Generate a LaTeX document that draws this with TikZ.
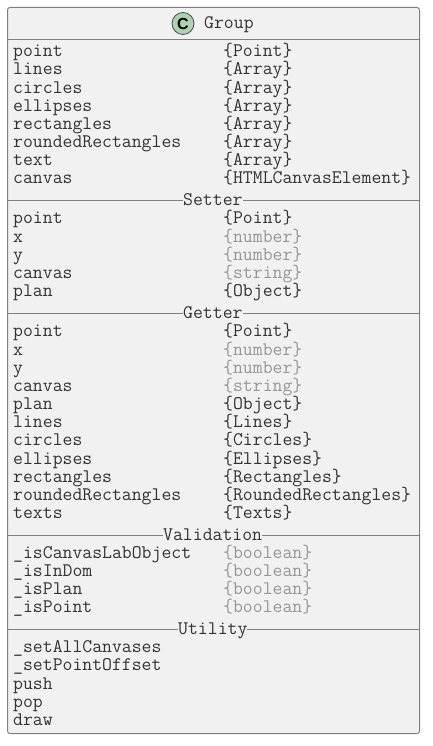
\documentclass[tikz,border=0pt]{standalone}
\usepackage{fontspec}
\setsansfont{Liberation Sans}
\definecolor{boxfill}{HTML}{F1F1F1}
\definecolor{boxline}{HTML}{7F7F7F}
\definecolor{spotfill}{HTML}{ADD1B2}
\definecolor{typegray}{HTML}{969696}
\tikzset{
  member/.style={anchor=base west,inner sep=0pt,yshift=-0.7pt,font=\fontsize{19.2}{20}\ttfamily,text=black!80},
  typename/.style={member},
  typemuted/.style={member,text=typegray},
  sectionlabel/.style={member,fill=boxfill},
}
\begin{document}
\begin{tikzpicture}[x=1pt,y=-1pt]
\useasboundingbox (0,0) rectangle (432,746);
\node[coordinate] (tl) at (7.5,7.5) {};
\node[coordinate] (br) at (419.5,733.5) {};
\draw[boxline,fill=boxfill,rounded corners=2.5pt,line width=1pt] (tl) rectangle (br);

% header
\node[coordinate] (h1) at (7.5,39.5) {};
\node[coordinate] (h2) at (419.5,39.5) {};
\draw[boxline,line width=1pt] (h1) -- (h2);
\node[circle,draw=black!70,fill=spotfill,line width=0.8pt,minimum size=22pt,inner sep=0pt,
  font=\fontsize{16}{16}\sffamily\bfseries] (spot) at (183,23.5) {C};
\node[member] (title) at (204,28) {Group};

% section rules
\foreach \name/\ypos in {setter/200.5,getter/313.5,validation/535.5,utility/629.5}{
  \node[coordinate] (\name l) at (7.5,\ypos) {};
  \node[coordinate] (\name r) at (419.5,\ypos) {};
  \draw[boxline,line width=1pt] (\name l) -- (\name r);
}
\node[sectionlabel] (setter) at (183,205) {Setter};
\node[sectionlabel] (getter) at (183,318) {Getter};
\node[sectionlabel] (validation) at (163,540) {Validation};
\node[sectionlabel] (utility) at (178,634) {Utility};

% fields
\foreach \i/\name/\ypos in {1/point/56,2/lines/74,3/circles/93,4/ellipses/111,5/rectangles/129,
  6/roundedRectangles/147,7/text/165,8/canvas/183}{
  \node[member] (field\i) at (13,\ypos) {\name};
}
\foreach \i/\kind/\ypos in {1/Point/56,2/Array/74,3/Array/93,4/Array/111,5/Array/129,
  6/Array/147,7/Array/165,8/HTMLCanvasElement/183}{
  \node[typename] (fieldtype\i) at (223,\ypos) {\{\kind\}};
}

% setter
\foreach \i/\name/\ypos in {1/point/223,2/x/242,3/y/260,4/canvas/278,5/plan/296}{
  \node[member] (set\i) at (13,\ypos) {\name};
}
\node[typename] (settype1) at (223,223) {\{Point\}};
\node[typemuted] (settype2) at (223,242) {\{number\}};
\node[typemuted] (settype3) at (223,260) {\{number\}};
\node[typemuted] (settype4) at (223,278) {\{string\}};
\node[typename] (settype5) at (223,296) {\{Object\}};

% getter
\foreach \i/\name/\ypos in {1/point/336,2/x/355,3/y/373,4/canvas/391,5/plan/409,6/lines/427,
  7/circles/445,8/ellipses/464,9/rectangles/482,10/roundedRectangles/500,11/texts/518}{
  \node[member] (get\i) at (13,\ypos) {\name};
}
\node[typename] (gettype1) at (223,336) {\{Point\}};
\node[typemuted] (gettype2) at (223,355) {\{number\}};
\node[typemuted] (gettype3) at (223,373) {\{number\}};
\node[typemuted] (gettype4) at (223,391) {\{string\}};
\foreach \i/\kind/\ypos in {5/Object/409,6/Lines/427,7/Circles/445,8/Ellipses/464,
  9/Rectangles/482,10/RoundedRectangles/500,11/Texts/518}{
  \node[typename] (gettype\i) at (223,\ypos) {\{\kind\}};
}

% validation
\foreach \i/\name/\ypos in {1/isCanvasLabObject/558,2/isInDom/576,3/isPlan/594,4/isPoint/612}{
  \node[member] (val\i) at (13,\ypos) {\_\name};
  \node[typemuted] (valtype\i) at (223,\ypos) {\{boolean\}};
}

% utility
\foreach \i/\name/\ypos in {1/\_setAllCanvases/652,2/\_setPointOffset/670,3/push/689,4/pop/707,5/draw/725}{
  \node[member] (util\i) at (13,\ypos) {\name};
}
\end{tikzpicture}
\end{document}
